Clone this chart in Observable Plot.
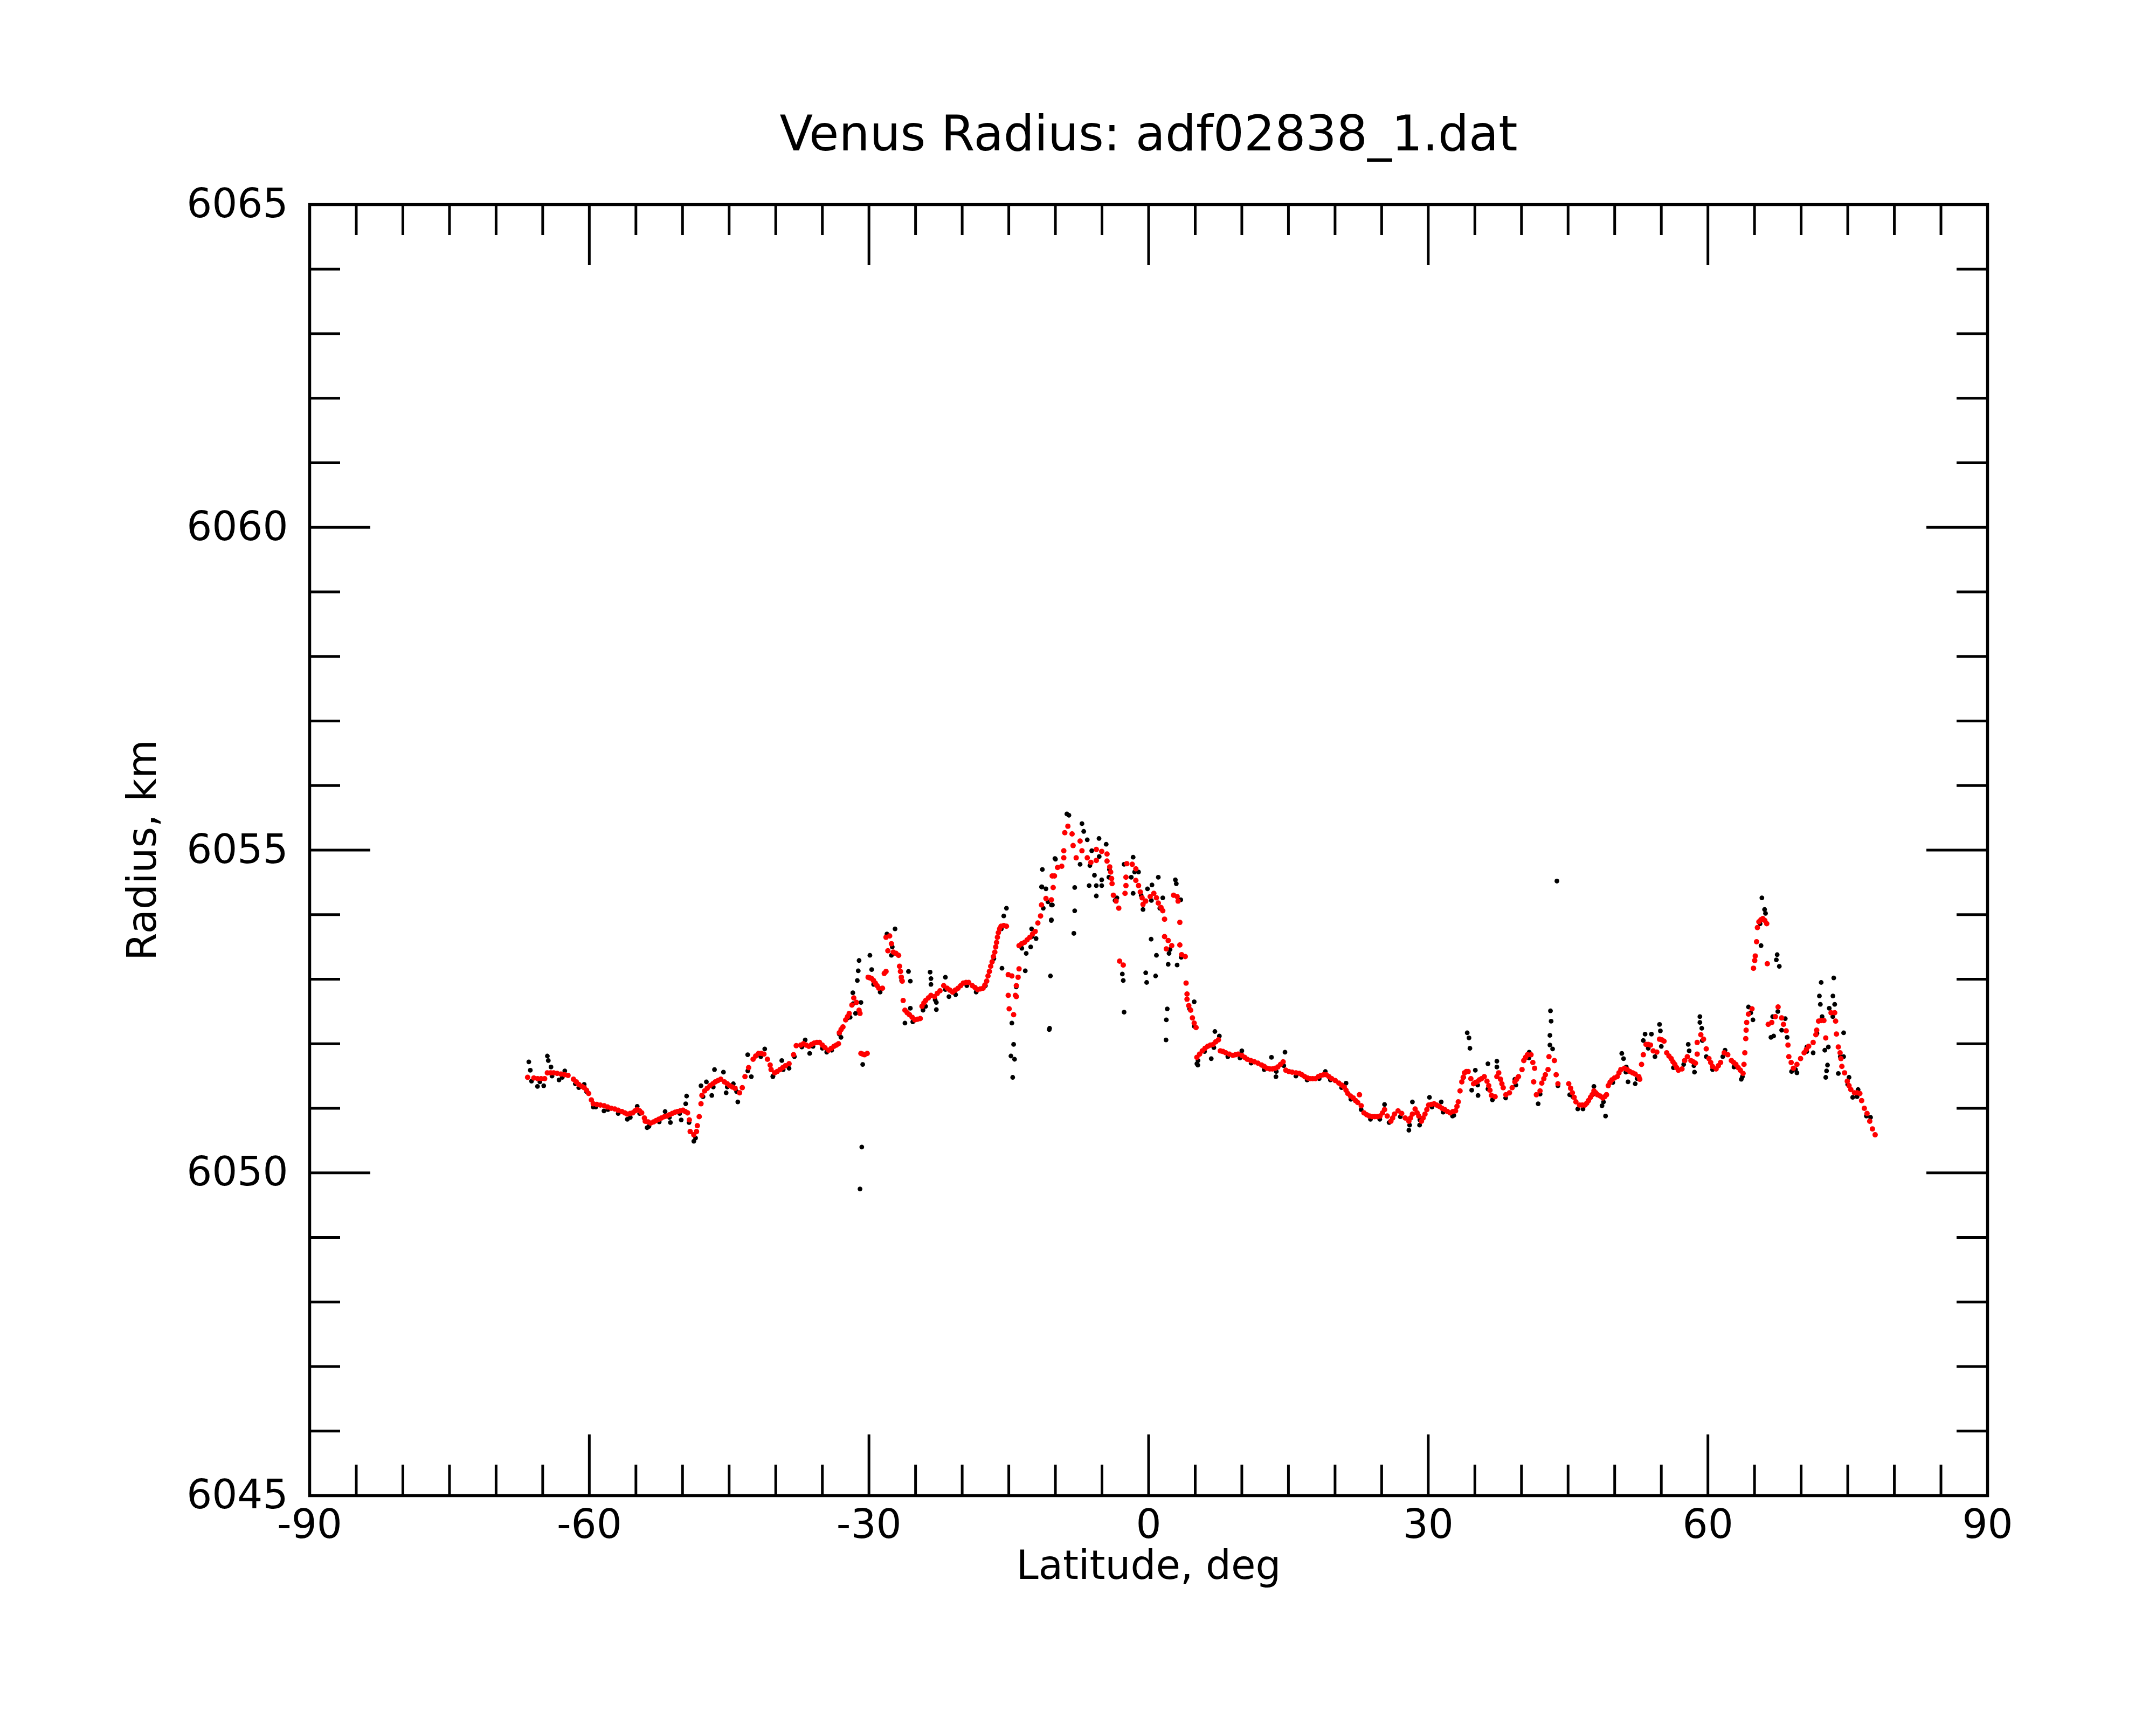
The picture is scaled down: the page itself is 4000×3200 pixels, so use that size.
<!DOCTYPE html>
<html><head><meta charset="utf-8">
<script src="https://cdn.jsdelivr.net/npm/d3@7"></script>
<script src="https://cdn.jsdelivr.net/npm/@observablehq/plot@0.6"></script>
<style>html,body{margin:0;padding:0;background:#fff;}</style>
</head><body>
<script>
const chartTitle = "Venus Radius: adf02838_1.dat";
const xLabel = "Latitude, deg";
const yLabel = "Radius, km";
const xMajorTicks = [-90, -60, -30, 0, 30, 60, 90];
const xMinorTicks = [-85,-80,-75,-70,-65,-55,-50,-45,-40,-35,-25,-20,-15,-10,-5,5,10,15,20,25,35,40,45,50,55,65,70,75,80,85];
const yMajorTicks = [6045, 6050, 6055, 6060, 6065];
const yMinorTicks = [6046,6047,6048,6049,6051,6052,6053,6054,6056,6057,6058,6059,6061,6062,6063,6064];

// red (fitted) series: [latitude deg, radius km]
const fitSeries = [
[-66.62,6051.48],[-65.95,6051.47],[-65.55,6051.46],[-65.17,6051.46],[-64.79,6051.46],[-64.50,6051.55],[-64.15,6051.55],[-63.83,6051.55],[-63.45,6051.54],[-63.05,6051.53],[-62.65,6051.52],[-62.28,6051.51],[-61.70,6051.45],[-61.40,6051.41],[-61.13,6051.37],[-60.80,6051.34],[-60.55,6051.32],[-60.30,6051.28],[-60.07,6051.23],[-59.78,6051.13],[-59.58,6051.07],[-59.20,6051.06],[-58.81,6051.05],[-58.40,6051.04],[-58.04,6051.02],[-57.65,6051.00],[-57.27,6050.99],[-56.90,6050.97],[-56.50,6050.95],[-56.20,6050.93],[-55.92,6050.91],[-55.62,6050.92],[-55.34,6050.93],[-55.10,6050.96],[-54.86,6050.98],[-54.60,6050.96],[-54.38,6050.93],[-54.09,6050.85],[-54.00,6050.80],[-53.70,6050.79],[-53.42,6050.77],[-53.10,6050.79],[-52.84,6050.81],[-52.55,6050.83],[-52.26,6050.85],[-51.95,6050.87],[-51.68,6050.88],[-51.40,6050.90],[-51.10,6050.92],[-50.80,6050.94],[-50.53,6050.95],[-50.25,6050.96],[-49.95,6050.97],[-49.70,6050.95],[-49.46,6050.93],[-49.27,6050.82],[-49.18,6050.64],[-48.79,6050.59],[-48.50,6050.64],[-48.41,6050.73],[-48.21,6050.87],[-48.02,6051.07],[-47.92,6051.20],[-47.63,6051.27],[-47.35,6051.31],[-47.06,6051.35],[-46.75,6051.38],[-46.48,6051.41],[-46.20,6051.43],[-45.90,6051.45],[-45.51,6051.41],[-45.20,6051.38],[-44.94,6051.35],[-44.65,6051.33],[-44.36,6051.31],[-43.88,6051.24],[-43.59,6051.32],[-43.30,6051.49],[-42.91,6051.63],[-42.43,6051.76],[-42.15,6051.81],[-41.85,6051.85],[-41.55,6051.85],[-41.27,6051.84],[-40.89,6051.76],[-40.60,6051.67],[-40.50,6051.60],[-40.12,6051.55],[-39.85,6051.57],[-39.54,6051.60],[-39.25,6051.63],[-38.96,6051.66],[-38.57,6051.69],[-38.09,6051.83],[-37.80,6051.97],
[-37.32,6051.98],[-37.03,6052.00],[-36.74,6051.98],[-36.45,6051.96],[-36.16,6051.99],[-35.88,6052.01],[-35.59,6052.02],[-35.30,6052.02],[-35.01,6051.98],[-34.72,6051.94],[-34.33,6051.90],[-34.04,6051.93],[-33.75,6051.96],[-33.50,6051.98],[-33.27,6052.00],[-33.18,6052.17],[-32.99,6052.22],[-32.79,6052.26],[-32.50,6052.37],[-32.30,6052.42],[-32.12,6052.47],[-31.83,6052.60],[-31.63,6052.71],[-31.35,6052.64],[-31.06,6052.52],[-30.96,6052.47],
[-30.86,6051.85],[-30.67,6051.84],[-30.48,6051.83],[-30.19,6051.85],
[-30.09,6053.03],[-29.90,6053.02],[-29.71,6053.01],[-29.52,6052.98],[-29.32,6052.94],[-29.13,6052.90],[-28.94,6052.86],[-28.55,6052.86],[-28.36,6053.09],[-28.17,6053.12],
[-28.17,6053.65],[-27.97,6053.44],[-27.78,6053.67],[-27.59,6053.55],[-27.39,6053.42],[-27.10,6053.40],[-26.82,6053.37],[-26.72,6053.20],[-26.62,6053.12],[-26.53,6053.03],[-26.43,6052.97],
[-26.33,6052.67],[-26.14,6052.52],[-25.90,6052.48],[-25.66,6052.45],[-25.37,6052.41],[-25.08,6052.37],[-24.79,6052.38],[-24.50,6052.39],[-24.31,6052.58],[-24.11,6052.63],[-23.92,6052.67],[-23.63,6052.71],[-23.35,6052.75],[-22.96,6052.73],[-22.67,6052.78],[-22.38,6052.82],[-21.98,6052.90],[-21.61,6052.86],[-21.32,6052.83],[-21.03,6052.80],[-20.74,6052.83],[-20.45,6052.86],[-20.16,6052.90],[-19.88,6052.94],[-19.59,6052.95],[-19.30,6052.95],[-18.91,6052.90],[-18.62,6052.87],[-18.34,6052.84],[-18.05,6052.85],[-17.76,6052.86],[-17.57,6052.91],[-17.37,6052.97],[-17.23,6053.05],[-17.08,6053.12],[-16.94,6053.20],[-16.79,6053.27],[-16.65,6053.35],[-16.50,6053.42],[-16.40,6053.50],[-16.31,6053.57],[-16.22,6053.65],[-16.12,6053.72],[-15.98,6053.78],[-15.83,6053.82],[-15.54,6053.83],[-15.25,6053.82],
[-15.06,6053.07],[-14.67,6053.05],[-13.90,6053.16],[-14.00,6053.03],[-14.19,6052.90],[-14.29,6052.75],[-15.06,6052.75],[-14.19,6052.73],[-14.96,6052.54],[-14.48,6052.45],
[-13.90,6053.52],[-13.61,6053.55],[-13.32,6053.57],[-13.03,6053.61],[-12.74,6053.65],[-12.45,6053.70],[-12.17,6053.74],[-11.88,6053.87],[-11.59,6053.98],[-11.49,6054.15],[-11.01,6054.25],[-10.43,6054.23],[-10.24,6054.42],[-10.34,6054.60],
[-10.10,6054.60],[-9.77,6054.73],[-9.32,6054.75],[-9.10,6054.88],[-9.10,6054.99],[-8.99,6055.27],[-8.66,6055.37],[-8.21,6055.25],[-8.10,6055.07],[-7.77,6054.88],
[-7.35,6055.14],[-7.15,6054.99],[-6.58,6054.88],[-6.19,6054.81],[-5.61,6054.84],[-5.61,6055.01],[-5.03,6054.98],[-4.46,6054.94],[-4.46,6054.83],[-4.17,6054.74],[-4.07,6054.66],[-3.97,6054.56],[-3.92,6054.48],[-3.78,6054.30],[-3.49,6054.21],[-3.20,6054.10],[-3.11,6053.28],[-2.72,6053.22],[-2.43,6054.58],[-2.43,6054.45],[-2.53,6054.33],[-2.34,6054.79],[-1.76,6054.78],[-1.37,6054.71],[-1.37,6054.53],[-1.08,6054.45],[-0.89,6054.35],[-0.70,6054.26],[-0.60,6054.16],[-0.31,6054.21],[0.17,6054.28],[0.56,6054.33],[0.84,6054.26],[1.04,6054.18],[1.33,6054.11],[1.52,6054.06],[1.71,6053.93],[1.71,6053.66],[2.10,6053.60],[1.90,6053.47],[2.48,6053.52],[3.35,6053.53],[3.54,6053.38],[3.93,6053.35],[2.68,6054.30],[3.06,6054.28],[3.16,6054.21],[3.35,6053.88],
[4.02,6052.94],[4.12,6052.77],[4.12,6052.69],[4.31,6052.59],[4.51,6052.52],[4.70,6052.40],[4.89,6052.32],[5.09,6052.25],[5.18,6051.79],[5.47,6051.84],[5.76,6051.89],[6.05,6051.93],[6.34,6051.96],[6.63,6051.98],[6.92,6051.99],[7.20,6052.03],[7.49,6052.06],[7.69,6051.89],[7.98,6051.88],[8.27,6051.86],[8.65,6051.84],[9.04,6051.82],[9.32,6051.83],[9.61,6051.84],[10.00,6051.82],[10.30,6051.79],[10.58,6051.76],[10.96,6051.74],[11.35,6051.72],[11.73,6051.70],[12.12,6051.67],[12.40,6051.65],[12.70,6051.62],[13.00,6051.61],[13.28,6051.61],[13.58,6051.62],[13.86,6051.64],[14.15,6051.68],[14.43,6051.72],[14.72,6051.59],[15.05,6051.57],[15.40,6051.56],[15.80,6051.55],[16.17,6051.54],[16.45,6051.52],[16.75,6051.49],[17.05,6051.47],[17.32,6051.46],[17.60,6051.46],[17.90,6051.46],[18.20,6051.49],[18.48,6051.51],[18.77,6051.52],[19.06,6051.52],[19.35,6051.49],[19.64,6051.46],[20.02,6051.43],[20.41,6051.39],[20.70,6051.36],[20.99,6051.33],[21.18,6051.28],[21.37,6051.23],[21.66,6051.19],[21.95,6051.16],[22.20,6051.12],[22.43,6051.09],
[22.62,6051.21],[22.81,6051.04],[23.10,6050.93],[23.40,6050.90],[23.68,6050.88],[23.97,6050.87],[24.25,6050.87],[24.55,6050.87],[24.83,6050.88],[25.10,6050.93],[25.31,6050.98],[25.60,6050.88],[25.99,6050.80],[26.18,6050.85],[26.38,6050.91],[26.76,6050.96],[27.15,6050.92],[27.53,6050.85],[27.92,6050.80],[28.10,6050.85],[28.30,6050.91],[28.59,6050.99],[28.80,6050.93],[28.98,6050.88],[29.27,6050.80],[29.45,6050.85],[29.65,6050.91],[29.85,6050.98],[30.04,6051.05],[30.33,6051.06],[30.62,6051.07],[30.90,6051.05],[31.19,6051.03],[31.48,6051.00],[31.77,6050.98],[32.06,6050.95],[32.35,6050.93],[32.64,6050.95],[32.93,6050.96],[33.08,6051.03],[33.22,6051.10],[33.41,6051.27],[33.60,6051.41],[33.75,6051.48],[33.89,6051.55],[34.08,6051.57],[34.28,6051.57],[34.57,6051.46],[34.86,6051.38],[35.05,6051.40],[35.24,6051.41],[35.48,6051.44],[35.72,6051.46],[36.01,6051.49],[36.30,6051.42],[36.49,6051.35],[36.62,6051.28],[36.78,6051.20],[37.17,6051.18],[37.36,6051.49],[37.56,6051.55],[37.75,6051.45],[37.90,6051.38],[38.04,6051.32],[38.33,6051.21],[38.71,6051.24],[39.00,6051.32],[39.29,6051.41],[39.48,6051.45],[39.68,6051.49],[40.06,6051.60],[40.25,6051.74],[40.45,6051.79],[40.64,6051.83],[41.02,6051.83],[41.22,6051.71],[41.41,6051.62],[41.31,6051.41],[41.60,6051.21],[41.99,6051.27],[42.18,6051.39],[42.40,6051.46],[42.56,6051.52],[42.85,6051.60],[42.95,6051.80],[43.53,6051.74],[43.72,6051.52],[43.91,6051.38],[45.07,6051.38],[45.27,6051.31],[45.46,6051.24],[45.65,6051.17],[45.84,6051.10],[46.23,6051.05],[46.52,6051.05],[46.81,6051.05],[47.00,6051.08],[47.19,6051.12],[47.40,6051.17],[47.58,6051.21],[47.77,6051.27],[47.97,6051.24],[48.16,6051.21],[48.45,6051.19],[48.73,6051.16],[48.93,6051.18],[49.12,6051.21],[49.31,6051.35],[49.50,6051.40],[49.70,6051.44],[49.98,6051.47],[50.27,6051.49],[50.46,6051.55],[50.66,6051.60],[51.05,6051.62],[51.34,6051.60],[51.63,6051.57],[51.92,6051.55],[52.20,6051.53],[52.59,6051.49],
[52.69,6051.45],[52.88,6051.68],[53.07,6051.83],[53.36,6051.99],[53.60,6051.99],[53.84,6051.98],[54.13,6051.89],[54.52,6051.87],[54.81,6052.07],[55.05,6052.06],[55.29,6052.04],[55.58,6051.86],[55.82,6051.81],[56.06,6051.77],[56.25,6051.72],[56.45,6051.68],[56.64,6051.63],[56.83,6051.59],[57.22,6051.61],[57.51,6051.74],[57.79,6051.80],[58.18,6051.74],[58.42,6051.72],[58.66,6051.70],[58.85,6051.84],[58.85,6052.02],[59.24,6052.14],[59.53,6052.07],[59.82,6051.92],[60.11,6051.77],[60.30,6051.71],[60.49,6051.65],[60.88,6051.61],[61.12,6051.66],[61.36,6051.71],[61.75,6051.86],[62.13,6051.83],[62.52,6051.74],[62.76,6051.71],[63.00,6051.68],[63.24,6051.63],[63.48,6051.59],[63.77,6051.54],[63.87,6051.68],[63.96,6051.86],[64.06,6052.08],[64.10,6052.21],[64.16,6052.33],[64.35,6052.46],[64.73,6052.54],[64.89,6053.17],[65.02,6053.29],[65.08,6053.36],[65.22,6053.58],[65.31,6053.80],[65.47,6053.89],[65.68,6053.92],[65.89,6053.94],[66.10,6053.91],[66.31,6053.86],[66.37,6053.24],[66.47,6052.30],[66.85,6052.33],[67.24,6052.42],[67.53,6052.57],[67.91,6052.40],[68.11,6052.30],[68.40,6052.20],[68.59,6051.98],[68.68,6051.80],[68.93,6051.71],[69.17,6051.62],[69.55,6051.68],[69.94,6051.77],[70.32,6051.86],[70.56,6051.91],[70.81,6051.96],[71.29,6052.02],[71.58,6052.14],[71.67,6052.21],[71.87,6052.35],[72.15,6052.36],[72.44,6052.36],[72.64,6052.09],[73.21,6052.48],[73.60,6052.48],[73.70,6052.35],[73.79,6052.15],[73.99,6051.95],[74.18,6051.86],[74.27,6051.77],[74.37,6051.65],[74.66,6051.55],[74.95,6051.42],[75.14,6051.35],[75.33,6051.29],[75.72,6051.24],[76.00,6051.24],[76.30,6051.23],[76.49,6051.12],[76.78,6051.00],[77.07,6050.92],[77.36,6050.80],[77.65,6050.68],[77.94,6050.59]
];

// black (raw) series: [latitude deg, radius km]
const rawSeries = [
[-66.49,6051.72],[-66.33,6051.59],[-64.50,6051.81],[-64.40,6051.74],[-64.11,6051.64],[-65.56,6051.34],[-64.89,6051.35],[-63.25,6051.44],[-62.63,6051.58],[-61.13,6051.32],[-60.55,6051.37],[-59.58,6051.02],[-58.43,6050.96],[-55.92,6050.83],[-54.86,6051.03],[-53.80,6050.70],[-51.87,6050.95],[-51.30,6050.78],[-50.14,6050.82],[-49.56,6051.19],[-49.66,6051.07],[-48.79,6050.49],[-48.02,6051.35],[-47.44,6051.41],[-46.57,6051.60],[-46.86,6051.20],[-45.61,6051.56],[-45.32,6051.24],[-44.55,6051.38],[-44.07,6051.10],[-43.01,6051.83],[-42.62,6051.49],[-41.18,6051.92],[-40.31,6051.49],[-39.35,6051.74],[-38.57,6051.62],
[-36.84,6052.06],[-36.36,6051.85],[-34.53,6051.87],[-31.73,6052.79],[-30.86,6052.64],[-31.44,6052.47],[-32.02,6052.41],[-33.18,6052.15],[-31.06,6053.29],[-31.15,6053.13],[-31.25,6052.98],[-29.90,6053.37],[-29.71,6053.15],[-28.07,6053.70],[-27.20,6053.78],[-27.59,6053.37],[-25.76,6053.12],[-25.56,6052.97],[-26.14,6052.32],[-25.56,6052.55],[-23.92,6052.58],[-23.44,6053.11],[-23.35,6053.01],[-23.35,6052.92],[-22.77,6052.64],[-22.77,6052.53],[-21.80,6053.03],[-21.42,6052.73],[-30.67,6051.68],[-30.77,6050.40],[-30.96,6049.75],
[-15.25,6054.10],[-15.54,6053.98],[-15.73,6053.17],[-14.67,6052.32],[-14.48,6051.99],[-14.77,6051.81],[-14.38,6051.76],[-14.58,6051.48],[-13.23,6053.13],[-13.13,6053.40],[-12.55,6053.78],[-12.65,6053.50],[-12.07,6053.63],[-11.40,6054.70],[-11.49,6054.43],[-11.01,6054.40],[-10.43,6054.15],[-10.43,6053.92],[-10.53,6053.05],[-10.62,6052.24],[-10.05,6054.87],[-7.93,6054.42],[-7.93,6054.06],[-8.02,6053.71],
[-8.77,6055.56],[-8.55,6055.54],[-9.99,6054.86],[-11.44,6054.43],[-10.32,6054.15],[-10.44,6053.91],[-10.66,6052.22],
[-7.15,6055.41],[-6.96,6055.29],[-6.58,6055.16],[-6.10,6054.99],[-7.35,6054.78],[-5.81,6054.61],[-5.03,6054.54],[-6.38,6054.45],[-5.61,6054.45],[-5.03,6054.45],[-5.61,6054.29],[-5.32,6055.18],[-4.55,6055.09],[-4.26,6054.58],[-3.40,6054.26],[-2.63,6054.78],[-1.66,6054.89],[-1.86,6054.58],[-1.66,6054.33],[-1.08,6054.66],[-0.12,6054.40],[0.36,6054.46],[1.04,6054.58],[1.52,6054.26],[-0.60,6054.08],[2.87,6054.54],[2.97,6054.48],[3.45,6054.23],[0.27,6053.62],[0.84,6053.37],[2.10,6053.23],[3.06,6053.22],[2.19,6053.40],[-2.82,6053.08],[-2.72,6052.98],[-2.63,6052.49],[-0.31,6053.10],[0.75,6053.05],[-0.21,6052.95],[2.00,6052.54],[1.90,6052.37],[1.87,6052.06],[4.89,6052.65],[5.18,6051.69],[5.28,6051.67],[6.72,6051.77],[7.11,6052.19],[7.59,6052.12],[10.00,6051.89],[13.18,6051.79],[13.66,6051.49],[14.63,6051.87],[18.96,6051.57],[21.18,6051.39],[21.76,6051.16],
[25.31,6051.06],[27.92,6050.66],[28.30,6051.10],[29.07,6050.74],[30.13,6051.17],[31.39,6051.10],[32.74,6050.89],[34.18,6052.17],[34.37,6052.09],[34.47,6051.93],[35.05,6051.59],[34.66,6051.28],[35.34,6051.20],[36.40,6051.69],[37.36,6051.73],[37.36,6051.64],[36.40,6051.30],[36.88,6051.13],[39.29,6051.45],[40.83,6051.87],[41.79,6051.07],[43.11,6052.51],[43.18,6052.35],[43.05,6052.13],[43.05,6051.98],[43.34,6051.92],[43.91,6051.35],[45.17,6051.21],[46.04,6050.99],[47.77,6051.34],[48.64,6051.04],[49.02,6050.88],[49.51,6051.41],[50.76,6051.85],[50.95,6051.77],[51.24,6051.64],[51.43,6051.41],[52.20,6051.38],[43.80,6054.52],
[53.26,6052.15],[53.94,6052.15],[53.07,6052.05],[54.81,6052.30],[54.90,6052.20],[54.32,6051.80],[57.89,6051.99],[57.99,6051.89],[58.56,6051.56],[59.14,6052.42],[59.14,6052.33],[59.34,6052.24],[59.82,6051.80],[61.84,6051.90],[63.58,6051.45],[65.79,6054.26],[66.08,6054.08],[66.18,6054.02],[65.70,6053.52],[67.43,6053.38],[67.34,6053.30],[67.66,6053.20],[64.35,6052.57],[64.83,6052.37],[66.95,6052.42],[68.30,6052.39],[67.91,6052.21],[66.76,6052.10],[67.05,6052.12],[68.97,6051.57],[69.55,6051.55],[70.61,6051.95],[71.29,6051.86],[72.15,6052.95],[73.50,6053.02],[71.96,6052.74],[72.06,6052.61],[73.41,6052.74],[73.60,6052.61],[73.02,6052.55],[72.25,6052.42],[72.92,6051.95],[72.54,6051.90],[72.83,6051.67],[72.73,6051.58],[72.64,6051.48],[74.56,6052.17],[74.56,6051.80],[73.99,6051.54],[75.14,6051.48],[75.53,6051.17],[76.11,6051.29],[77.45,6050.86],
[-66.2,6051.42],[-65.3,6051.41],[-64.0,6051.50],[-62.9,6051.48],[-61.5,6051.38],[-60.3,6051.26],[-59.3,6051.02],[-58.0,6050.98],[-56.9,6050.92],[-55.6,6050.86],[-54.6,6050.92],[-53.6,6050.72],[-52.5,6050.79],[-51.4,6050.86],[-50.3,6050.92],[-49.3,6050.78],[-48.6,6050.54],[-47.8,6051.18],[-46.7,6051.33],[-45.2,6051.33],[-44.2,6051.26],[-43.0,6051.58],[-41.6,6051.80],[-40.3,6051.50],[-39.2,6051.60],[-38.0,6051.80],[-37.2,6051.95],[-36.0,6051.96],[-35.0,6051.93],[-34.0,6051.90],[-33.0,6052.10],[-32.3,6052.40],[-31.7,6052.62],[-29.5,6052.92],[-28.8,6052.80],[-27.5,6053.50],[-26.5,6052.98],[-25.3,6052.34],[-24.2,6052.52],[-22.9,6052.68],[-21.8,6052.84],[-20.7,6052.76],[-19.5,6052.90],[-18.5,6052.80],[-17.5,6052.90],[-16.6,6053.32],[-15.8,6053.78],[-14.2,6052.88],[-13.6,6053.48],[-12.5,6053.66],[-11.3,6054.10],[-10.8,6054.20],[-6.3,6054.76],[-5.3,6054.90],[-4.2,6054.70],[-3.6,6054.22],[-1.5,6054.66],[-0.8,6054.30],[0.3,6054.22],[1.2,6054.10],[2.3,6053.46],[3.5,6053.34],[4.4,6052.54],[4.9,6052.27],[5.3,6051.74],[6.0,6051.88],[7.0,6051.94],[8.5,6051.80],[9.8,6051.78],[11.0,6051.70],[12.4,6051.60],[13.7,6051.57],[14.5,6051.66],[15.8,6051.50],[17.0,6051.44],[18.3,6051.46],[19.5,6051.44],[20.7,6051.32],[21.7,6051.14],[22.8,6050.98],[23.8,6050.83],[24.8,6050.83],[25.8,6050.78],[27.0,6050.87],[28.0,6050.74],[29.1,6050.82],[30.4,6051.02],[31.6,6050.94],[32.6,6050.88],[33.8,6051.48],[35.3,6051.36],[36.6,6051.28],[38.3,6051.16],[39.4,6051.36],[40.8,6051.78],[42.0,6051.22],[45.5,6051.18],[46.6,6050.99],[47.7,6051.22],[48.8,6051.10],[49.8,6051.40],[51.2,6051.56],[52.4,6051.46],[53.6,6051.93],[55.0,6051.96],[56.3,6051.63],[57.4,6051.68],[58.5,6051.66],[59.4,6052.05],[60.5,6051.60],[61.6,6051.80],[62.8,6051.64],[63.7,6051.49],[64.6,6052.48],[65.6,6053.86],[67.5,6052.50],[68.5,6052.10],[69.4,6051.60],[70.6,6051.88],[71.7,6052.16],[73.4,6052.42],[74.2,6051.80],[75.0,6051.37],[76.0,6051.18],[77.0,6050.88]
];

const W = 4000, H = 3200;
const mL = 574, mR = 313, mT = 379, mB = 426;
const frameW = W - mL - mR, frameH = H - mT - mB;
const majorLen = 113, minorLen = 57;

const chart = Plot.plot({
  width: W, height: H,
  marginLeft: mL, marginRight: mR, marginTop: mT, marginBottom: mB,
  style: {fontFamily: "'DejaVu Sans', sans-serif", background: "#fff", color: "#000", overflow: "visible"},
  x: {domain: [-90, 90]},
  y: {domain: [6045, 6065]},
  marks: [
    Plot.dot(rawSeries, {x: d => d[0], y: d => d[1], r: 4.4, fill: "black"}),
    Plot.dot(fitSeries, {x: d => d[0], y: d => d[1], r: 5, fill: "red"}),
    Plot.tickX(xMajorTicks, {x: d => d, insetTop: frameH - majorLen, stroke: "black", strokeWidth: 5}),
    Plot.tickX(xMajorTicks, {x: d => d, insetBottom: frameH - majorLen, stroke: "black", strokeWidth: 5}),
    Plot.tickX(xMinorTicks, {x: d => d, insetTop: frameH - minorLen, stroke: "black", strokeWidth: 5}),
    Plot.tickX(xMinorTicks, {x: d => d, insetBottom: frameH - minorLen, stroke: "black", strokeWidth: 5}),
    Plot.tickY(yMajorTicks, {y: d => d, insetRight: frameW - majorLen, stroke: "black", strokeWidth: 5}),
    Plot.tickY(yMajorTicks, {y: d => d, insetLeft: frameW - majorLen, stroke: "black", strokeWidth: 5}),
    Plot.tickY(yMinorTicks, {y: d => d, insetRight: frameW - minorLen, stroke: "black", strokeWidth: 5}),
    Plot.tickY(yMinorTicks, {y: d => d, insetLeft: frameW - minorLen, stroke: "black", strokeWidth: 5}),
    Plot.frame({stroke: "black", strokeWidth: 5.5}),
    Plot.axisX(xMajorTicks, {anchor: "bottom", tickSize: 0, tickPadding: 26, fontSize: 74, label: null, tickFormat: d => String(d)}),
    Plot.axisY(yMajorTicks, {anchor: "left", tickSize: 0, tickPadding: 40, fontSize: 74, label: null, tickFormat: d => String(d)}),
    Plot.text([chartTitle], {frameAnchor: "top", dy: -129, text: d => d, fontSize: 90, lineAnchor: "middle", textAnchor: "middle"}),
    Plot.text([xLabel], {frameAnchor: "bottom", dy: 131, text: d => d, fontSize: 74, lineAnchor: "middle", textAnchor: "middle"}),
    Plot.text([yLabel], {frameAnchor: "left", dx: -309, text: d => d, fontSize: 74, rotate: -90, lineAnchor: "middle", textAnchor: "middle"})
  ]
});
document.body.appendChild(chart);
</script>
</body></html>
